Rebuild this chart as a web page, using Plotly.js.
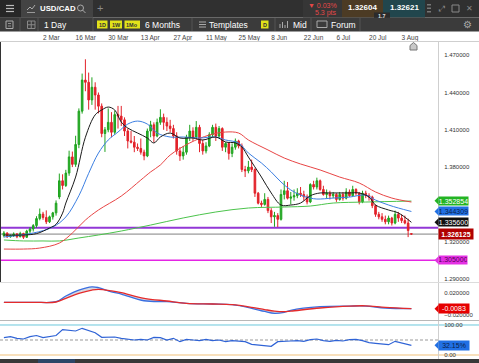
<!DOCTYPE html>
<html><head><meta charset="utf-8">
<script src="https://cdn.plot.ly/plotly-3.0.1.min.js"></script>
<style>html,body{margin:0;padding:0;background:#fff;overflow:hidden}#chart{width:479px;height:363px}</style>
</head><body><div id="chart"></div>
<script>
// ---------- DATA ----------
const dates = ["2020-02-13","2020-02-14","2020-02-17","2020-02-18","2020-02-19","2020-02-20","2020-02-21","2020-02-24","2020-02-25","2020-02-26","2020-02-27","2020-02-28",
"2020-03-02","2020-03-03","2020-03-04","2020-03-05","2020-03-06","2020-03-09","2020-03-10","2020-03-11","2020-03-12","2020-03-13","2020-03-16","2020-03-17","2020-03-18","2020-03-19","2020-03-20","2020-03-23","2020-03-24","2020-03-25","2020-03-26","2020-03-27","2020-03-30","2020-03-31",
"2020-04-01","2020-04-02","2020-04-03","2020-04-06","2020-04-07","2020-04-08","2020-04-09","2020-04-10","2020-04-13","2020-04-14","2020-04-15","2020-04-16","2020-04-17","2020-04-20","2020-04-21","2020-04-22","2020-04-23","2020-04-24","2020-04-27","2020-04-28","2020-04-29","2020-04-30",
"2020-05-01","2020-05-04","2020-05-05","2020-05-06","2020-05-07","2020-05-08","2020-05-11","2020-05-12","2020-05-13","2020-05-14","2020-05-15","2020-05-18","2020-05-19","2020-05-20","2020-05-21","2020-05-22","2020-05-25","2020-05-26","2020-05-27","2020-05-28","2020-05-29",
"2020-06-01","2020-06-02","2020-06-03","2020-06-04","2020-06-05","2020-06-08","2020-06-09","2020-06-10","2020-06-11","2020-06-12","2020-06-15","2020-06-16","2020-06-17","2020-06-18","2020-06-19","2020-06-22","2020-06-23","2020-06-24","2020-06-25","2020-06-26","2020-06-29","2020-06-30",
"2020-07-01","2020-07-02","2020-07-03","2020-07-06","2020-07-07","2020-07-08","2020-07-09","2020-07-10","2020-07-13","2020-07-14","2020-07-15","2020-07-16","2020-07-17","2020-07-20","2020-07-21","2020-07-22","2020-07-23","2020-07-24","2020-07-27","2020-07-28","2020-07-29","2020-07-30","2020-07-31",
"2020-08-03","2020-08-04","2020-08-05","2020-08-06"];

const open = [1.3250,1.3270,1.3240,1.3248,1.3262,1.3240,1.3266,1.3236,1.3285,1.3302,1.3330,1.3386,
1.3422,1.3395,1.3360,1.3400,1.3432,1.3560,1.3690,1.3652,1.3752,1.3882,1.3822,1.3982,1.4250,1.4500,1.4482,1.4340,1.4442,1.4380,1.4290,1.4070,1.4100,1.4160,
1.4080,1.4222,1.4210,1.4180,1.4090,1.4010,1.4000,1.3960,1.3950,1.3920,1.3890,1.4090,1.4140,1.4050,1.4160,1.4200,1.4160,1.4130,1.4110,1.4050,1.3930,1.3890,
1.3920,1.4040,1.4090,1.4040,1.4120,1.3990,1.3930,1.3970,1.4060,1.4120,1.4050,1.4110,1.3960,1.3990,1.3910,1.3960,1.4010,1.3970,1.3780,1.3770,1.3800,
1.3780,1.3590,1.3510,1.3500,1.3540,1.3450,1.3400,1.3410,1.3380,1.3580,1.3610,1.3550,1.3560,1.3570,1.3590,1.3580,1.3560,1.3520,1.3660,1.3640,1.3690,1.3620,
1.3580,1.3590,1.3570,1.3580,1.3540,1.3580,1.3550,1.3600,1.3570,1.3620,1.3590,1.3520,1.3590,1.3570,1.3560,1.3490,1.3420,1.3400,1.3380,1.3360,1.3390,1.3350,1.3420,
1.3390,1.3370,1.3350,1.3265];
const high = [1.3285,1.3275,1.3258,1.3275,1.3270,1.3280,1.3272,1.3296,1.3316,1.3342,1.3405,1.3467,
1.3440,1.3452,1.3410,1.3440,1.3532,1.3748,1.3742,1.3778,1.3932,1.3925,1.4052,1.4272,1.4552,1.4667,1.4560,1.4522,1.4482,1.4400,1.4312,1.4122,1.4272,1.4242,
1.4252,1.4292,1.4292,1.4200,1.4110,1.4090,1.4050,1.3990,1.4030,1.3940,1.4110,1.4172,1.4160,1.4190,1.4265,1.4230,1.4200,1.4180,1.4140,1.4080,1.3960,1.3970,
1.4060,1.4140,1.4120,1.4170,1.4140,1.4020,1.4000,1.4080,1.4140,1.4150,1.4130,1.4120,1.4000,1.4000,1.3990,1.4030,1.4020,1.3990,1.3810,1.3850,1.3860,
1.3790,1.3600,1.3530,1.3590,1.3560,1.3470,1.3440,1.3430,1.3620,1.3690,1.3680,1.3600,1.3620,1.3630,1.3640,1.3610,1.3580,1.3670,1.3690,1.3715,1.3700,1.3650,
1.3620,1.3610,1.3600,1.3590,1.3600,1.3600,1.3630,1.3620,1.3650,1.3630,1.3600,1.3610,1.3610,1.3590,1.3570,1.3500,1.3440,1.3430,1.3410,1.3410,1.3400,1.3450,1.3440,
1.3420,1.3410,1.3385,1.3270];
const low = [1.3235,1.3230,1.3232,1.3238,1.3228,1.3236,1.3222,1.3230,1.3266,1.3282,1.3312,1.3372,
1.3376,1.3342,1.3350,1.3378,1.3410,1.3542,1.3620,1.3640,1.3730,1.3800,1.3802,1.3952,1.4230,1.4410,1.4262,1.4300,1.4262,1.4232,1.4040,1.3922,1.4080,1.4040,
1.4060,1.4110,1.4130,1.4050,1.3950,1.3990,1.3920,1.3930,1.3900,1.3855,1.3880,1.4040,1.4000,1.4040,1.4140,1.4100,1.4090,1.4080,1.4030,1.3900,1.3850,1.3860,
1.3900,1.4010,1.4010,1.4030,1.3920,1.3900,1.3910,1.3960,1.4040,1.4010,1.4030,1.3930,1.3920,1.3860,1.3880,1.3940,1.3950,1.3760,1.3720,1.3750,1.3760,
1.3560,1.3500,1.3480,1.3490,1.3430,1.3350,1.3320,1.3318,1.3370,1.3540,1.3540,1.3500,1.3530,1.3550,1.3560,1.3530,1.3500,1.3510,1.3620,1.3620,1.3610,1.3570,
1.3550,1.3540,1.3550,1.3520,1.3530,1.3530,1.3540,1.3560,1.3560,1.3570,1.3500,1.3510,1.3550,1.3530,1.3470,1.3400,1.3380,1.3360,1.3340,1.3340,1.3330,1.3340,1.3360,
1.3350,1.3340,1.3237,1.3255];
const close = [1.3270,1.3240,1.3248,1.3262,1.3240,1.3266,1.3236,1.3285,1.3302,1.3330,1.3386,1.3422,
1.3395,1.3360,1.3400,1.3432,1.3510,1.3690,1.3652,1.3752,1.3882,1.3822,1.3982,1.4250,1.4500,1.4482,1.4340,1.4442,1.4380,1.4290,1.4070,1.4100,1.4160,1.4080,
1.4222,1.4210,1.4180,1.4090,1.4010,1.4000,1.3960,1.3950,1.3920,1.3890,1.4090,1.4140,1.4050,1.4160,1.4200,1.4160,1.4130,1.4110,1.4050,1.3930,1.3890,1.3920,
1.4040,1.4090,1.4040,1.4120,1.3990,1.3930,1.3970,1.4060,1.4120,1.4050,1.4110,1.3960,1.3990,1.3910,1.3960,1.4010,1.3970,1.3780,1.3770,1.3800,1.3780,
1.3590,1.3510,1.3500,1.3540,1.3450,1.3400,1.3410,1.3380,1.3580,1.3610,1.3550,1.3560,1.3570,1.3590,1.3580,1.3560,1.3520,1.3660,1.3640,1.3690,1.3620,1.3580,
1.3590,1.3570,1.3580,1.3540,1.3580,1.3550,1.3600,1.3570,1.3620,1.3590,1.3520,1.3590,1.3570,1.3560,1.3490,1.3420,1.3400,1.3380,1.3360,1.3390,1.3350,1.3420,1.3390,
1.3370,1.3350,1.3290,1.3261];

// moving averages, read at selected candle indices
const ma10Idx = [0,6,10,14,16,18,19,22,25,28,30,32,34,36,38,41,44,46,48,51,54,58,61,65,68,71,73,75,79,82,85,88,91,94,97,100,103,106,109,112,114,118,121,125];
const ma10 = [1.3254,1.3254,1.3265,1.3310,1.3340,1.3430,1.3511,1.3720,1.4040,1.4220,1.4259,1.4283,1.4259,1.4162,1.4114,1.4074,1.4034,1.3994,1.4042,1.4074,1.4034,1.4034,1.4018,1.4042,1.4002,1.3994,1.3962,1.3881,1.3720,1.3592,1.3495,1.3495,1.3511,1.3570,1.3592,1.3592,1.3592,1.3592,1.3592,1.3559,1.3495,1.3455,1.3431,1.3356];
const ma20Idx = [0,9,15,19,23,26,29,32,35,38,41,44,47,51,55,60,65,68,72,75,79,82,85,88,91,94,96,101,106,111,114,118,121,125];
const ma20 = [1.3238,1.3270,1.3318,1.3399,1.3570,1.3750,1.3913,1.4018,1.4082,1.4146,1.4170,1.4146,1.4074,1.4042,1.4042,1.4034,1.4042,1.4018,1.3994,1.3913,1.3833,1.3761,1.3680,1.3616,1.3575,1.3551,1.3543,1.3551,1.3559,1.3575,1.3535,1.3495,1.3471,1.3443];
const ma50Idx = [0,6,11,17,21,25,29,36,42,45,48,51,57,63,68,72,75,81,86,91,97,103,109,114,119,125];
const ma50 = [1.3141,1.3141,1.3149,1.3189,1.3270,1.3374,1.3455,1.3567,1.3696,1.3761,1.3817,1.3897,1.3994,1.4058,1.4082,1.4074,1.4018,1.3938,1.3873,1.3825,1.3777,1.3720,1.3672,1.3600,1.3551,1.3519];
const ma200Idx = [0,6,12,17,23,29,36,45,55,65,75,86,94,101,111,125];
const ma200 = [1.3214,1.3206,1.3206,1.3206,1.3230,1.3254,1.3286,1.3334,1.3391,1.3439,1.3471,1.3479,1.3487,1.3511,1.3519,1.3527];

// MACD pane
const macdIdx = [0,9,16,19,23,27,29,33,36,43,50,56,64,70,76,80,83,86,88,97,106,111,117,125];
const macdLine = [0.0034,0.0034,0.0045,0.015,0.026,0.032,0.0305,0.0225,0.0187,0.0063,0.0045,0.0016,0.0003,-0.001,-0.0076,-0.0135,-0.0169,-0.015,-0.0113,-0.0047,-0.0035,-0.0035,-0.0071,-0.0083];
const signalLine = [0.0034,0.0034,0.004,0.0108,0.02,0.026,0.0274,0.0245,0.0211,0.0108,0.0058,0.0016,0.0003,-0.001,-0.0058,-0.01,-0.0128,-0.0138,-0.0128,-0.0071,-0.0035,-0.003,-0.0058,-0.0083];

// oscillator pane (%)
const oscIdx = [0,2,4,6,8,10,12,14,16,18,20,22,24,26,28,30,32,34,36,38,40,42,44,46,48,50,52,54,56,58,60,62,64,66,68,70,72,74,76,78,80,82,84,86,88,90,92,94,96,98,100,102,104,106,108,110,112,114,116,118,120,122,124,125];
const oscVal = [57.8,61.1,55.6,53.3,61.1,65,57.8,62,65,84.4,83.3,80,88.9,81,74,58.9,60,60,55.6,52.2,50,52.2,50,58.9,57.8,50,55.6,44.4,52.2,50,47.8,52.2,47.8,50,44.4,47.8,46.7,44.4,35.6,33.3,30,28.9,44.4,46.7,46.7,47.8,45.6,51,53.3,47.8,45.6,48.9,46.7,51,52.2,47.8,41.1,38.9,36.7,34.4,45.6,40,33.3,32.15];

// axis ticks and levels
const tickDates = ["2020-03-02","2020-03-16","2020-03-30","2020-04-13","2020-04-27","2020-05-11","2020-05-25","2020-06-08","2020-06-22","2020-07-06","2020-07-20","2020-08-03"];
const tickLabels = ["2 Mar","16 Mar","30 Mar","13 Apr","27 Apr","11 May","25 May","8 Jun","22 Jun","6 Jul","20 Jul","3 Aug"];
const priceTicks = [1.29,1.32,1.38,1.41,1.44,1.47];
const macdTicks = [-0.02,0.02];
const oscTicks = [0,100];
const supportLevel = 1.3313;   // purple
const targetLevel = 1.305;     // magenta
const lastPrice = 1.326125;
const lastMA200 = 1.352854, lastMA20 = 1.344309, lastMA10 = 1.3356;
const lastMacd = -0.0083, lastOsc = 32.15;

// ---------- FIGURE ----------
const FONT = 'Liberation Sans, Arial, sans-serif';
const W = 479, H = 363;
const fx = v => v / W, fy = v => 1 - v / H;
const pick = (idx) => idx.map(i => dates[i]);
const shapes = [], annotations = [];
function rect(x0,y0,x1,y1,fill,lc,lw){shapes.push({type:'rect',xref:'paper',yref:'paper',x0:fx(x0),x1:fx(x1),y0:fy(y1),y1:fy(y0),fillcolor:fill||'rgba(0,0,0,0)',line:{color:lc||'rgba(0,0,0,0)',width:lw||0},layer:'above'});}
function seg(x0,y0,x1,y1,color,w,dash){shapes.push({type:'line',xref:'paper',yref:'paper',x0:fx(x0),x1:fx(x1),y0:fy(y0),y1:fy(y1),line:{color:color,width:w||1,dash:dash||'solid'},layer:'above'});}
function txt(x,y,text,size,color,anchor,bold){annotations.push({xref:'paper',yref:'paper',x:fx(x),y:fy(y),text:bold?'<b>'+text+'</b>':text,showarrow:false,xanchor:anchor||'left',yanchor:'middle',font:{size:size,color:color,family:FONT},borderpad:0});}
function tag(yref,y,text,bg,fg,w,h,bold){
  annotations.push({xref:'paper',yref:yref,x:fx(438),y:y,xanchor:'left',yanchor:'middle',text:bold?'<b>'+text+'</b>':text,showarrow:false,bgcolor:bg,width:w,height:h,borderpad:0,align:'center',font:{size:7,color:fg,family:FONT}});
}

// header bars
rect(0,0,479,17.5,'#303030');
rect(0,0,21,17.5,'#272727');
seg(6,5.5,14,5.5,'#bbb',1.2); seg(6,8.5,14,8.5,'#bbb',1.2); seg(6,11.5,14,11.5,'#bbb',1.2);
rect(21,0,93,17.5,'#434343');
seg(27,12.5,35,12.5,'#999',1); seg(27,10,30,7,'#aaa',1); seg(30,7,32,9,'#aaa',1); seg(32,9,35,5,'#aaa',1);
txt(38.5,8.8,'USD/CAD',7.8,'#ffffff','left',true);
shapes.push({type:'circle',xref:'paper',yref:'paper',x0:fx(77.5),x1:fx(83.5),y0:fy(11),y1:fy(5),line:{color:'#aaa',width:1},layer:'above'});
seg(82.5,10,85.5,13,'#aaa',1);
txt(100,8.5,'+',11,'#8a8a8a','center');
rect(303,0,342,17.5,'#363636');
txt(338,5.8,'▼ 0.03%',7,'#e44848','right');
txt(338,13.5,'5.3 pts',7,'#e44848','right');
rect(342,0,383,17.5,'#4c3b24');
txt(362.5,7.5,'1.32604',8,'#ffffff','center',true);
rect(383,0,425,17.5,'#21464d');
txt(404,7.5,'1.32621',8,'#ffffff','center',true);
rect(374,12.5,390,18.5,'#2b2b2b');
txt(382,15.6,'1.7',5.5,'#dddddd','center',true);
rect(427,4,431,5.5,'#777'); rect(427,7.5,431,9,'#777'); rect(427,11,431,12.5,'#777');
txt(441,8.5,'⤢',8,'#888','center');
rect(452,5,459,12,null,'#888',1);
txt(469,8.5,'✕',7.5,'#888','center');

rect(0,17.5,479,31.5,'#3b3b3b');
seg(20,18,20,31,'#555',1); seg(38,18,38,31,'#555',1); seg(93,18,93,31,'#555',1);
seg(192,18,192,31,'#555',1); seg(275,18,275,31,'#555',1); seg(311,18,311,31,'#555',1); seg(360,18,360,31,'#555',1);
rect(6,21,13,28.5,null,'#aaa',1); seg(8,23.5,11,23.5,'#aaa',0.8); seg(8,26,11,26,'#aaa',0.8);
rect(27.5,21,35,28.5,null,'#888',1); seg(31.25,21,31.25,28.5,'#888',1); seg(27.5,24.75,35,24.75,'#888',1);
txt(42.5,24.8,'1 Day',8.5,'#ffffff','left');
rect(97,20.5,107.5,28.5,'#e2e21a'); txt(102.25,24.6,'1D',5.5,'#333','center',true);
rect(110,20.5,122,28.5,'#e2e21a'); txt(116,24.6,'1W',5.5,'#333','center',true);
rect(124.5,20.5,140,28.5,'#e2e21a'); txt(132.25,24.6,'1Mo',5.5,'#333','center',true);
txt(144,24.8,'6 Months',8.5,'#ffffff','left');
seg(199,22,206,22,'#aaa',1); seg(199,24.5,206,24.5,'#aaa',1); seg(199,27,206,27,'#aaa',1);
txt(208,24.8,'Templates',8.5,'#ffffff','left');
rect(261,20.5,268.5,28.5,'#e2e21a'); txt(264.75,24.6,'D',5.5,'#333','center',true);
seg(280,28,280,24,'#aaa',1); seg(282.5,28,282.5,22,'#aaa',1); seg(285,28,285,25,'#aaa',1); seg(287.5,28,287.5,21,'#aaa',1);
txt(291.5,24.8,'Mid',8.5,'#ffffff','left');
rect(317,21,327,27.5,null,'#aaa',1);
txt(329.5,24.8,'Forum',8.5,'#ffffff','left');
txt(467,24.8,'⚙',10,'#aaa','center');

// frame lines
seg(0,41.5,479,41.5,'#cfcfcf',1);
seg(0.5,42,0.5,282,'#333',1);
seg(438.5,42,438.5,359,'#cfcfcf',1);
seg(0,282.5,479,282.5,'#dcdcdc',1);
seg(0,320.5,479,320.5,'#b8b8b8',1);
// bottom strip
rect(0,359,479,363,'#383838');
rect(38,359,75,363,'#2c4668');
// scroll-to-end marker
shapes.push({type:'path',xref:'paper',yref:'paper',
  path:`M ${fx(410)} ${fy(50)} L ${fx(410)} ${fy(45.5)} L ${fx(413.5)} ${fy(42.5)} L ${fx(417)} ${fy(45.5)} L ${fx(417)} ${fy(50)} Z`,
  fillcolor:'#c8c8c8',line:{color:'#777',width:1},layer:'above'});

// level lines (main pane)
function level(y,color,w,dash){shapes.push({type:'line',xref:'paper',yref:'y',x0:fx(1),x1:fx(438),y0:y,y1:y,line:{color:color,width:w,dash:dash||'solid'},layer:'below'});}
level(targetLevel,'#e424e4',1.5);
level(lastPrice,'#808080',1);
level(supportLevel,'#9237d6',2);
// oscillator guide lines
shapes.push({type:'line',xref:'paper',yref:'y3',x0:0,x1:1,y0:100,y1:100,line:{color:'#6cc8dc',width:1},layer:'below'});
shapes.push({type:'line',xref:'paper',yref:'y3',x0:0,x1:1,y0:0,y1:0,line:{color:'#f2c27a',width:1.2},layer:'below'});
shapes.push({type:'line',xref:'paper',yref:'y3',x0:0,x1:fx(438),y0:50,y1:50,line:{color:'#999',width:1,dash:'3px,2px'},layer:'below'});

// right-side value tags
function arrowTip(yref,y,color){
  shapes.push({type:'path',xref:'paper',yref:yref,ysizemode:'pixel',yanchor:y,
    path:`M ${fx(434.5)} 0 L ${fx(438.5)} -4 L ${fx(438.5)} 4 Z`,fillcolor:color,line:{width:0},layer:'above'});
}
arrowTip('y',lastMA200,'#23b423');
arrowTip('y',lastMA20,'#2170e4');
arrowTip('y',lastMA10,'#111111');
arrowTip('y',targetLevel,'#e430e4');
arrowTip('y2',lastMacd,'#e60000');
arrowTip('y3',lastOsc,'#2170e4');
tag('y',lastMA200,lastMA200.toFixed(6),'#23b423','#ffffff',29,8);
tag('y',lastMA20,lastMA20.toFixed(6),'#2170e4','#0a1f4a',29,8);
tag('y',lastMA10,lastMA10.toFixed(6),'#111111','#ffffff',29,8);
tag('y',lastPrice,lastPrice.toFixed(6),'#b00000','#ffffff',34,10,true);
tag('y',targetLevel,targetLevel.toFixed(6),'#e430e4','#5a005a',28,7.5);
tag('y2',lastMacd,lastMacd.toFixed(4),'#e60000','#ffffff',30,9);
tag('y3',lastOsc,lastOsc.toFixed(2)+'%','#2170e4','#0a1f4a',30,9);

const traces = [
  {type:'candlestick',x:dates,open:open,high:high,low:low,close:close,xaxis:'x',yaxis:'y',hoverinfo:'skip',whiskerwidth:0,
   increasing:{line:{color:'#1fa31f',width:1},fillcolor:'#2bb02b'},decreasing:{line:{color:'#e2222a',width:1},fillcolor:'#e2222a'}},
  {type:'scatter',mode:'lines',x:pick(ma200Idx),y:ma200,line:{color:'#4cc44c',width:1,shape:'spline'},yaxis:'y',hoverinfo:'skip'},
  {type:'scatter',mode:'lines',x:pick(ma50Idx),y:ma50,line:{color:'#e84545',width:1,shape:'spline'},yaxis:'y',hoverinfo:'skip'},
  {type:'scatter',mode:'lines',x:pick(ma20Idx),y:ma20,line:{color:'#3c7fe2',width:1,shape:'spline'},yaxis:'y',hoverinfo:'skip'},
  {type:'scatter',mode:'lines',x:pick(ma10Idx),y:ma10,line:{color:'#1a1a1a',width:1,shape:'spline'},yaxis:'y',hoverinfo:'skip'},
  {type:'scatter',mode:'lines',x:pick(macdIdx),y:macdLine,line:{color:'#3a6fe0',width:1.3,shape:'spline'},yaxis:'y2',hoverinfo:'skip'},
  {type:'scatter',mode:'lines',x:pick(macdIdx),y:signalLine,line:{color:'#e52b2b',width:1.3,shape:'spline'},fill:'tonexty',fillcolor:'rgba(140,140,165,0.35)',yaxis:'y2',hoverinfo:'skip'},
  {type:'scatter',mode:'lines',x:pick(oscIdx),y:oscVal,line:{color:'#2f63d6',width:1.2},yaxis:'y3',hoverinfo:'skip'}
];

const yCommon = {side:'right',anchor:'x',showgrid:false,zeroline:false,showline:false,ticks:'outside',ticklen:4,tickcolor:'rgba(0,0,0,0)',
  tickfont:{size:6,color:'#333',family:FONT},fixedrange:true};
const layout = {
  width:W,height:H,margin:{l:0,r:0,t:0,b:0,pad:0,autoexpand:false},
  paper_bgcolor:'#ffffff',plot_bgcolor:'#ffffff',showlegend:false,
  xaxis:{type:'category',domain:[fx(1),fx(438)],range:[-0.89,133.16],side:'top',anchor:'y',
    tickmode:'array',tickvals:tickDates,ticktext:tickLabels,ticklabelposition:'outside right',ticks:'',
    tickfont:{size:6.5,color:'#444',family:FONT},showgrid:false,zeroline:false,showline:false,
    rangeslider:{visible:false},fixedrange:true},
  yaxis:Object.assign({},yCommon,{domain:[fy(282),fy(42)],range:[1.2876,1.4806],tickmode:'array',tickvals:priceTicks,tickformat:'.6f'}),
  yaxis2:Object.assign({},yCommon,{domain:[fy(320),fy(283)],range:[-0.0292,0.039],tickmode:'array',tickvals:macdTicks,tickformat:'.6f'}),
  yaxis3:Object.assign({},yCommon,{domain:[fy(359),fy(321)],range:[-13.3,113.3],tickmode:'array',tickvals:oscTicks,tickformat:'.2f',ticksuffix:'%'}),
  shapes:shapes,annotations:annotations
};
Plotly.newPlot('chart',traces,layout,{staticPlot:true,displayModeBar:false});
</script>
</body></html>
